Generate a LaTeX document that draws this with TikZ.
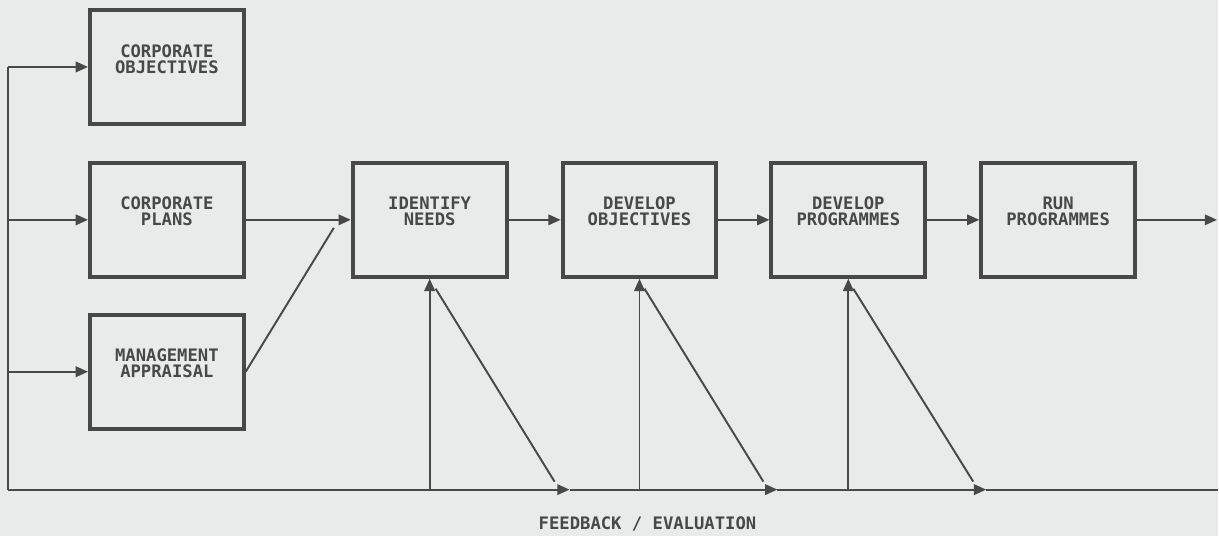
\documentclass[tikz,border=0pt]{standalone}
\usepackage{fontspec}
\setmonofont{DejaVu Sans Mono}
\usepackage{xcolor}
\usetikzlibrary{arrows.meta}
\usetikzlibrary{positioning}

\definecolor{ink}{RGB}{72,72,72}
\definecolor{paper}{RGB}{233,234,234}

\begin{document}
\begin{tikzpicture}[x=0.02cm, y=-0.02cm,
	every node/.style={text=ink, font=\ttfamily\bfseries\fontsize{9.8pt}{9.1pt}\selectfont},
	stage/.style={rectangle, draw=ink, line width=2.2pt, minimum width=3.08cm, minimum height=2.28cm, inner sep=0pt, align=center, text depth=0.33cm},
	wire/.style={color=ink, line width=1.1pt},
	flow/.style={wire, -{Triangle[length=7pt, width=6pt]}}]
		\fill[paper] (0,0) rectangle (1219,536);
		
		\node[stage] at (167,67) (cobj) {CORPORATE\\OBJECTIVES};
		\node[stage] at (167,220) (cplan) {CORPORATE\\PLANS};
		\node[stage] at (167,372) (mapp) {MANAGEMENT\\APPRAISAL};
		
		\node[stage] at (430,220) (needs) {IDENTIFY\\NEEDS};
		\node[stage] at (640,220) (obj) {DEVELOP\\OBJECTIVES};
		\node[stage] at (849,220) (prog) {DEVELOP\\PROGRAMMES};
		\node[stage] at (1059,220) (run) {RUN\\PROGRAMMES};
		
		\node at (648,524) (fblabel) {FEEDBACK / EVALUATION};
		
		\coordinate (top) at (8,67);
		\coordinate (corner) at (8,490);
		\coordinate (fb1) at (570,490);
		\coordinate (fb2) at (778,490);
		\coordinate (fb3) at (987,490);
		\coordinate (end) at (1219,490);
		\coordinate (out) at (1218,220);
		
		% inputs from the feedback loop
		\path[wire] (top) edge (corner);
		\path[flow] (top) edge (cobj);
		\path[flow] (top |- cplan) edge (cplan);
		\path[flow] (top |- mapp) edge (mapp);
		
		% main chain
		\path[flow] (cplan) edge (needs);
		\path[wire] (mapp.east) edge ([shift={(-17,8)}]needs.west);
		\path[flow] (needs) edge (obj);
		\path[flow] (obj) edge (prog);
		\path[flow] (prog) edge (run);
		\path[flow] (run) edge (out);
		
		% feedback / evaluation line
		\path[flow] (corner) edge (fb1);
		\path[flow] (fb1) edge (fb2);
		\path[flow] (fb2) edge (fb3);
		\path[wire] (fb3) edge (end);
		
		\path[flow] (needs.south |- corner) edge (needs.south);
		\path[flow] (obj.south |- corner) edge (obj.south);
		\path[flow] (prog.south |- corner) edge (prog.south);
		
		\path[wire] ([shift={(6,10)}]needs.south) edge ([shift={(-15,-8)}]fb1);
		\path[wire] ([shift={(5,10)}]obj.south) edge ([shift={(-14,-8)}]fb2);
		\path[wire] ([shift={(5,10)}]prog.south) edge ([shift={(-13,-8)}]fb3);
	\end{tikzpicture}
\end{document}
